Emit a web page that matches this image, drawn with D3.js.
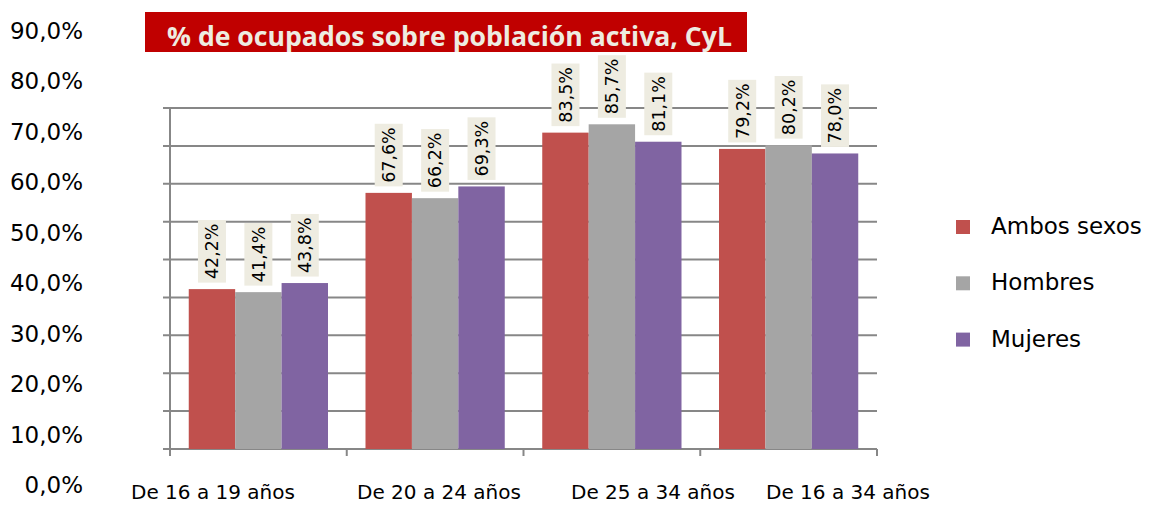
<!DOCTYPE html>
<html>
<head>
<meta charset="utf-8" />
<title>% de ocupados sobre población activa, CyL</title>
<script src="https://d3js.org/d3.v7.min.js"></script>
<style>
  body { margin: 0; background: #fff; }
  svg text { font-family: "DejaVu Sans", sans-serif; fill: #000; }
</style>
</head>
<body>
<div id="chart"></div>
<script>
// data
var categories = ["De 16 a 19 años", "De 20 a 24 años", "De 25 a 34 años", "De 16 a 34 años"];
var series = ["Ambos sexos", "Hombres", "Mujeres"];
var ambos = [42.2, 67.6, 83.5, 79.2];
var hombres = [41.4, 66.2, 85.7, 80.2];
var mujeres = [43.8, 69.3, 81.1, 78.0];
var yTicks = [0, 10, 20, 30, 40, 50, 60, 70, 80, 90];
var title = "% de ocupados sobre población activa, CyL";

var values = [ambos, hombres, mujeres];
var colors = ["#C0504D", "#A5A5A5", "#8064A2"];

var width = 1153, height = 505;
var plot = { left: 170, right: 877, top: 108, bottom: 449 };

var svg = d3.select("#chart").append("svg")
    .attr("width", width)
    .attr("height", height);

var x0 = d3.scaleBand()
    .domain(categories)
    .range([plot.left, plot.right])
    .padding(0);

var x1 = d3.scaleBand()
    .domain(series)
    .range([0, x0.bandwidth()])
    .paddingInner(0)
    .paddingOuter(0.404);

var y = d3.scaleLinear()
    .domain([0, 90])
    .range([plot.bottom, plot.top]);

// the tick labels in the original sit on their own (offset) scale
var yLab = d3.scaleLinear()
    .domain([0, 90])
    .range([493, 38.5]);

// gridlines
svg.append("g").selectAll("line")
    .data(yTicks)
    .enter().append("line")
    .attr("x1", plot.left - 7)
    .attr("x2", plot.right)
    .attr("y1", function(d) { return y(d); })
    .attr("y2", function(d) { return y(d); })
    .style("stroke", "#878787")
    .style("stroke-width", 2);

// vertical axis
svg.append("line")
    .attr("x1", plot.left).attr("x2", plot.left)
    .attr("y1", y(90)).attr("y2", plot.bottom + 7)
    .style("stroke", "#878787")
    .style("stroke-width", 2);

// category boundary ticks
var bounds = categories.map(function(c) { return x0(c); }).concat([x0.range()[1]]);
svg.append("g").selectAll("line")
    .data(bounds.slice(1))
    .enter().append("line")
    .attr("x1", function(d) { return d; })
    .attr("x2", function(d) { return d; })
    .attr("y1", plot.bottom)
    .attr("y2", plot.bottom + 7)
    .style("stroke", "#878787")
    .style("stroke-width", 2);

// y tick labels
svg.append("g").selectAll("text")
    .data(yTicks)
    .enter().append("text")
    .attr("x", 83)
    .attr("y", function(d) { return yLab(d); })
    .attr("text-anchor", "end")
    .style("font-size", "23px")
    .text(function(d) { return d3.format(".1f")(d).replace(".", ",") + "%"; });

// category labels (offset from the bands as in the original)
var catLabelX = [213, 439, 653, 848];
svg.append("g").selectAll("text")
    .data(categories)
    .enter().append("text")
    .attr("x", function(d, i) { return catLabelX[i]; })
    .attr("y", 499)
    .attr("text-anchor", "middle")
    .style("font-size", "20px")
    .text(function(d) { return d; });

// bars
var flat = [];
categories.forEach(function(c, i) {
    series.forEach(function(s, j) {
        flat.push({ cat: c, ser: s, val: values[j][i], color: colors[j] });
    });
});

svg.append("g").selectAll("rect")
    .data(flat)
    .enter().append("rect")
    .attr("x", function(d) { return x0(d.cat) + x1(d.ser); })
    .attr("y", function(d) { return y(d.val); })
    .attr("width", x1.bandwidth())
    .attr("height", function(d) { return plot.bottom - y(d.val); })
    .style("fill", function(d) { return d.color; });

// value labels with boxes
var lab = svg.append("g").selectAll("g")
    .data(flat)
    .enter().append("g");

lab.each(function(d) {
    var g = d3.select(this);
    var cx = x0(d.cat) + x1(d.ser) + x1.bandwidth() / 2;
    var txt = d3.format(".1f")(d.val).replace(".", ",") + "%";
    var rect = g.append("rect").style("fill", "#EEECE1");
    var t = g.append("text")
        .attr("text-anchor", "middle")
        .attr("dy", "0.36em")
        .style("font-size", "17.5px")
        .text(txt);
    var len = t.node().getComputedTextLength();
    var boxH = len + 7;
    var bottom = y(d.val) - 6.5;
    var cy = bottom - boxH / 2;
    rect.attr("x", cx - 14).attr("y", bottom - boxH)
        .attr("width", 28).attr("height", boxH);
    t.attr("transform", "translate(" + cx + "," + cy + ") rotate(-90)");
});

// title
svg.append("rect")
    .attr("x", 145).attr("y", 12)
    .attr("width", 602).attr("height", 40)
    .style("fill", "#C00000");
svg.append("text")
    .attr("x", 167).attr("y", 46)
    .attr("textLength", 565)
    .attr("lengthAdjust", "spacingAndGlyphs")
    .style("font-family", "'Open Sans', sans-serif")
    .style("font-weight", "bold")
    .style("font-size", "26px")
    .style("fill", "#EEECE1")
    .text(title);

// legend
var legend = svg.append("g").selectAll("g")
    .data(series)
    .enter().append("g")
    .attr("transform", function(d, i) { return "translate(956," + (234 + i * 56.3) + ")"; });
legend.append("rect")
    .attr("x", 0).attr("y", -14)
    .attr("width", 14).attr("height", 14)
    .style("fill", function(d, i) { return colors[i]; });
legend.append("text")
    .attr("x", 35).attr("y", 0)
    .style("font-size", "23px")
    .text(function(d) { return d; });
</script>
</body>
</html>
